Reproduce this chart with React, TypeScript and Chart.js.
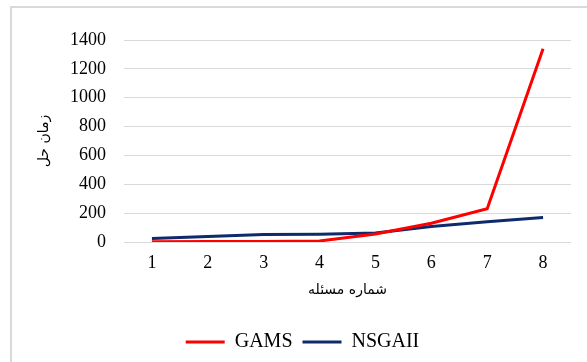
import React, { useEffect, useRef } from "react";
import { Chart, registerables } from "chart.js";

Chart.register(...registerables);

const categories = ["1", "2", "3", "4", "5", "6", "7", "8"];
const gamsValues = [2, 3, 4, 7, 55, 130, 230, 1340];
const nsgaValues = [25, 38, 52, 53, 62, 108, 140, 170];
const seriesNames = ["GAMS", "NSGAII"];
const xTitle = "شماره مسئله";
const yTitle = "زمان حل";

export default function App() {
  const ref = useRef<HTMLCanvasElement | null>(null);

  useEffect(() => {
    if (!ref.current) return;
    const chart = new Chart(ref.current, {
      type: "line",
      data: {
        labels: categories,
        datasets: [
          {
            label: seriesNames[0],
            data: gamsValues,
            borderColor: "#ff0000",
            backgroundColor: "#ff0000",
            borderWidth: 3,
            pointRadius: 0,
            tension: 0,
          },
          {
            label: seriesNames[1],
            data: nsgaValues,
            borderColor: "#0f2a6b",
            backgroundColor: "#0f2a6b",
            borderWidth: 3,
            pointRadius: 0,
            tension: 0,
          },
        ],
      },
      options: {
        animation: false,
        responsive: false,
        maintainAspectRatio: false,
        layout: { padding: { top: 40, right: 16, left: 34, bottom: 0 } },
        plugins: {
          tooltip: { enabled: false },
          legend: {
            position: "bottom",
            labels: {
              boxWidth: 39,
              boxHeight: 3,
              padding: 10,
              color: "#000",
              font: { family: "'Liberation Serif'", size: 20 },
              generateLabels: (c: any) =>
                c.data.datasets.map((d: any, i: number) => ({
                  text: d.label,
                  fillStyle: d.borderColor,
                  strokeStyle: d.borderColor,
                  lineWidth: 0,
                  fontColor: "#000",
                  hidden: false,
                  datasetIndex: i,
                })),
            },
          },
        },
        scales: {
          x: {
            offset: true,
            grid: { display: false, drawTicks: false },
            border: { display: false },
            ticks: {
              color: "#000",
              padding: 10,
              font: { family: "'Liberation Serif'", size: 18 },
            },
            title: {
              display: true,
              text: xTitle,
              color: "#000",
              font: { family: "'DejaVu Sans'", size: 14 },
              padding: { top: 0, bottom: 23 },
            },
            afterFit: (s: any) => {
              s.height = 80;
            },
          },
          y: {
            min: 0,
            max: 1400,
            ticks: {
              stepSize: 200,
              color: "#000",
              padding: 18,
              font: { family: "'Liberation Serif'", size: 18 },
              callback: (v: any) => String(v),
            },
            grid: { color: "#d9d9d9", lineWidth: 1, drawTicks: false },
            border: { display: false },
            title: {
              display: true,
              text: yTitle,
              color: "#000",
              font: { family: "'DejaVu Sans'", size: 14 },
              padding: { top: 2, bottom: 0 },
            },
            afterFit: (s: any) => {
              s.width = 90;
            },
          },
        },
      },
    });
    return () => chart.destroy();
  }, []);

  return (
    <div
      style={{
        position: "fixed",
        left: 0,
        top: 0,
        width: 587,
        height: 362,
        overflow: "hidden",
        background: "#fff",
      }}
    >
      <div
        style={{
          position: "absolute",
          left: 10,
          top: 6,
          width: 700,
          height: 500,
          border: "2px solid #d9d9d9",
          boxSizing: "border-box",
        }}
      />
      <canvas
        ref={ref}
        width={587}
        height={362}
        style={{ position: "absolute", left: 0, top: 0, width: 587, height: 362 }}
      />
    </div>
  );
}
